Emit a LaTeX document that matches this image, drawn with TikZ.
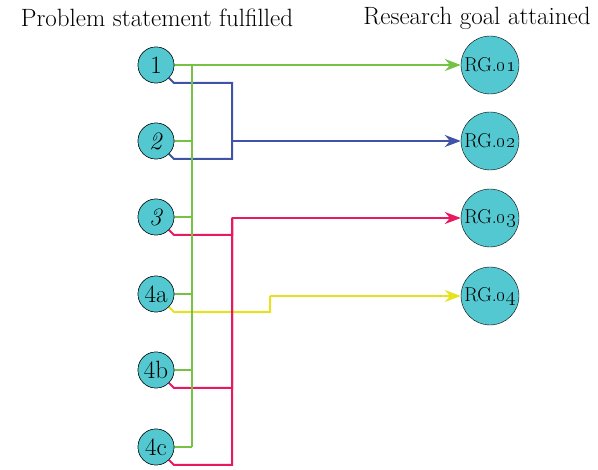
\documentclass[tikz,border=0pt]{standalone}
\usepackage{fix-cm}
\usetikzlibrary{arrows.meta}
\definecolor{nodefill}{RGB}{84,200,208}
\definecolor{lgreen}{RGB}{118,194,70}
\definecolor{lblue}{RGB}{63,84,166}
\definecolor{lred}{RGB}{233,25,95}
\definecolor{lyellow}{RGB}{230,226,30}
\tikzset{
  stmt/.style={circle,draw=black,fill=nodefill,minimum size=36pt,inner sep=0pt,
    font=\fontsize{25}{28}\selectfont},
  goal/.style={circle,draw=black,fill=nodefill,minimum size=58pt,inner sep=0pt,
    font=\fontsize{20}{24}\selectfont},
  title/.style={font=\fontsize{25}{29}\selectfont},
  link/.style={line width=2pt},
  arr/.style={link,-{Stealth[length=16pt,width=12pt]}},
}
\begin{document}
\begin{tikzpicture}[x=1pt,y=-1pt]
\useasboundingbox (0,0) rectangle (598,470);

% headings
\node[title] (th1) at (157,18) {Problem statement fulfilled};
\node[title] (th2) at (477,18) {Research goal attained};

% problem statements
\node[stmt] (p1)  at (156,65)  {1};
\node[stmt] (p2)  at (156,141) {\textit{2}};
\node[stmt] (p3)  at (156,217) {\textit{3}};
\node[stmt] (p4a) at (156,294) {4a};
\node[stmt] (p4b) at (156,370) {4b};
\node[stmt] (p4c) at (156,447) {4c};

% research goals
\node[goal] (g1) at (490,65)  {RG.\oldstylenums{01}};
\node[goal] (g2) at (490,141) {RG.\oldstylenums{02}};
\node[goal] (g3) at (490,218) {RG.\oldstylenums{03}};
\node[goal] (g4) at (490,296) {RG.\oldstylenums{04}};

% junction points
\coordinate (gbus) at (192,65);
\coordinate (gend) at (192,447);
\coordinate (bj) at (232,141);
\coordinate (rj) at (232,218);
\coordinate (yj) at (270,296);

% yellow: 4a -> RG.04
\draw[link,lyellow] (p4a.-45) -- ++(5,5) -| (yj);
\draw[arr,lyellow] (yj) -- (g4);

% blue: 1, 2 -> RG.02
\draw[link,lblue] (p1.-45) -- ++(5,5) -| (bj);
\draw[link,lblue] (p2.-45) -- ++(5,5) -| (bj);
\draw[arr,lblue] (bj) -- (g2);

% red: 3, 4b, 4c -> RG.03
\draw[link,lred] (p3.-45) -- ++(5,5) -| (rj);
\draw[link,lred] (p4b.-45) -- ++(5,5) -| (rj);
\draw[link,lred] (p4c.-45) -- ++(5,5) -| (rj);
\draw[arr,lred] (rj) -- (g3);

% green: all statements -> RG.01
\draw[link,lgreen] (gbus) -- (gend);
\foreach \n in {p2,p3,p4a,p4b,p4c}
  \draw[link,lgreen] (\n.east) -- (\n.east -| gbus);
\draw[arr,lgreen] (p1) -- (g1);

% redraw nodes above the line ends
\foreach \n in {p1,p2,p3,p4a,p4b,p4c}
  \draw[black,fill=nodefill] (\n) circle (18pt);
\node[stmt] at (p1) {1};
\node[stmt] at (p2) {\textit{2}};
\node[stmt] at (p3) {\textit{3}};
\node[stmt] at (p4a) {4a};
\node[stmt] at (p4b) {4b};
\node[stmt] at (p4c) {4c};
\end{tikzpicture}
\end{document}
